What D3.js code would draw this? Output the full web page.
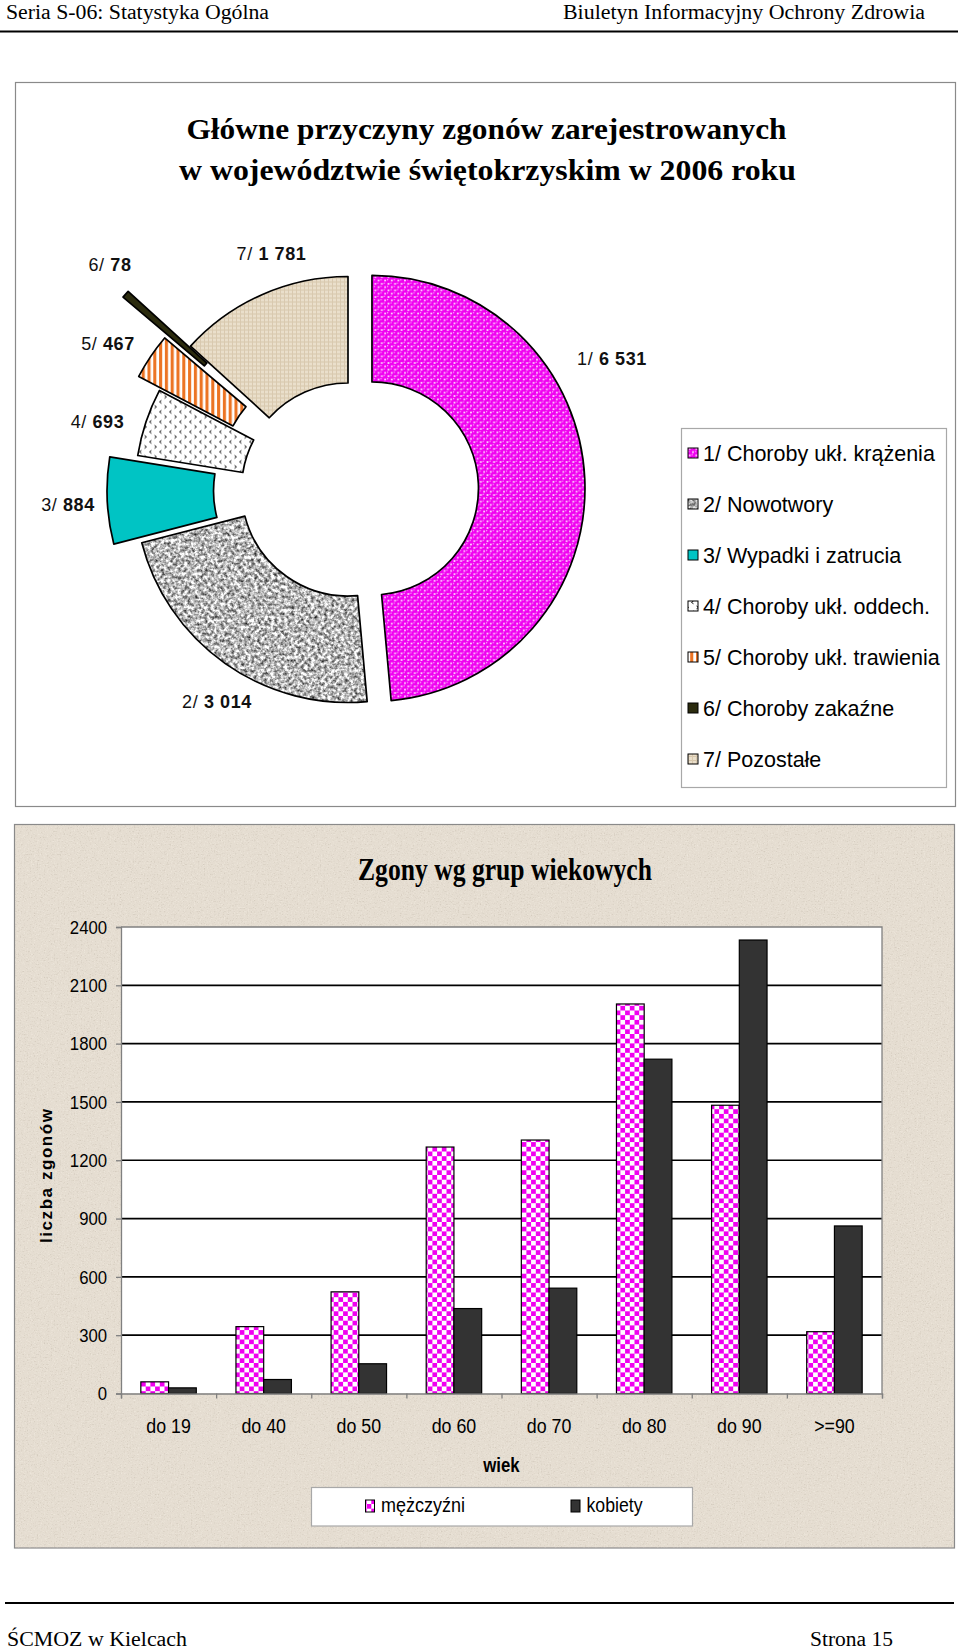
<!DOCTYPE html>
<html><head><meta charset="utf-8">
<script src="https://cdn.jsdelivr.net/npm/d3@7"></script>
<style>body{margin:0;background:#fff}svg{display:block}</style>
</head><body>
<script>
// ---------------- data ----------------
const causeCodes = ["1/","2/","3/","4/","5/","6/","7/"];
const causeNames = ["Choroby ukł. krążenia","Nowotwory","Wypadki i zatrucia","Choroby ukł. oddech.","Choroby ukł. trawienia","Choroby zakaźne","Pozostałe"];
const causeDeaths = [6531,3014,884,693,467,78,1781];

const ageGroups = ["do 19","do 40","do 50","do 60","do 70","do 80","do 90",">=90"];
const menDeaths = [60,344,523,1268,1304,2004,1483,318];
const womenDeaths = [29,72,153,437,542,1720,2333,862];
const seriesNames = ["mężczyźni","kobiety"];
const yTicks = [0,300,600,900,1200,1500,1800,2100,2400];

// ---------------- layout / style ----------------
const pieCenter = [348, 489.5];
const explode = [24,0,28,0,25,83,0];
const labelOffsets = [[264,-131.5],[-131,211.5],[-280,14.5],[-250.5,-68],[-240,-146],[-238,-225],[-76.5,-236.5]];
const SANS = "'Liberation Sans', Arial, sans-serif";
const SERIF = "'Liberation Serif', 'Times New Roman', serif";

const fmt = d3.formatLocale({decimal:",", thousands:" ", grouping:[3], currency:["",""]}).format(",d");

const svg = d3.select("body").append("svg").attr("width",960).attr("height",1652);
const defs = svg.append("defs");

// patterns
const p1 = defs.append("pattern").attr("id","pBalls").attr("patternUnits","userSpaceOnUse").attr("width",6.6).attr("height",6.6);
p1.append("rect").attr("width",6.6).attr("height",6.6).attr("fill","#fff");
[[0,0],[6.6,0],[0,6.6],[6.6,6.6],[3.3,3.3]].forEach(([a,b])=>{
  p1.append("circle").attr("cx",a).attr("cy",b).attr("r",2.55).attr("fill","#f000f0");
  p1.append("circle").attr("cx",a-0.8).attr("cy",b-0.8).attr("r",0.7).attr("fill","#ffb0ff");
});
const p4 = defs.append("pattern").attr("id","pChev").attr("patternUnits","userSpaceOnUse").attr("width",10).attr("height",10);
p4.append("rect").attr("width",10).attr("height",10).attr("fill","#fff");
p4.append("path").attr("d","M3.5,1 L1.5,2.4 L3.5,3.8").attr("fill","none").attr("stroke","#000").attr("stroke-width",0.9);
p4.append("path").attr("d","M6.5,6 L8.5,7.4 L6.5,8.8").attr("fill","none").attr("stroke","#000").attr("stroke-width",0.9);
const p5 = defs.append("pattern").attr("id","pStripe").attr("patternUnits","userSpaceOnUse").attr("width",5.8).attr("height",10);
p5.append("rect").attr("width",5.8).attr("height",10).attr("fill","#fff");
p5.append("rect").attr("width",3.1).attr("height",10).attr("fill","#ec7424");
const p7 = defs.append("pattern").attr("id","pWeave").attr("patternUnits","userSpaceOnUse").attr("width",4).attr("height",4);
p7.append("rect").attr("width",4).attr("height",4).attr("fill","#eadfcb");
p7.append("rect").attr("width",4).attr("height",1).attr("fill","#d6c6ab");
p7.append("rect").attr("width",1).attr("height",4).attr("fill","#d9c9af");
const pc = defs.append("pattern").attr("id","pCheck").attr("patternUnits","userSpaceOnUse").attr("width",9.4).attr("height",9.4);
pc.append("rect").attr("width",9.4).attr("height",9.4).attr("fill","#fff");
pc.append("rect").attr("width",4.7).attr("height",4.7).attr("fill","#f000f0");
pc.append("rect").attr("x",4.7).attr("y",4.7).attr("width",4.7).attr("height",4.7).attr("fill","#f000f0");

// granite filter
const fg = defs.append("filter").attr("id","granite").attr("x",0).attr("y",0).attr("width","100%").attr("height","100%")
  .attr("color-interpolation-filters","sRGB");
fg.append("feTurbulence").attr("type","fractalNoise").attr("baseFrequency",0.3).attr("numOctaves",3).attr("seed",7).attr("result","n");
fg.append("feColorMatrix").attr("in","n").attr("type","matrix")
  .attr("values","1.5 0 0 0 -0.03  1.5 0 0 0 -0.03  1.5 0 0 0 -0.03  0 0 0 0 1").attr("result","g");
fg.append("feComposite").attr("in","g").attr("in2","SourceGraphic").attr("operator","in");

// paper filter
const fp = defs.append("filter").attr("id","paper").attr("x",0).attr("y",0).attr("width","100%").attr("height","100%")
  .attr("color-interpolation-filters","sRGB");
fp.append("feTurbulence").attr("type","fractalNoise").attr("baseFrequency",0.7).attr("numOctaves",2).attr("seed",3).attr("result","n");
fp.append("feColorMatrix").attr("in","n").attr("type","matrix")
  .attr("values","0 0 0 0 0.98  0 0 0 0 0.96  0 0 0 0 0.92  2.2 0 0 0 -1.15").attr("result","w");
fp.append("feColorMatrix").attr("in","n").attr("type","matrix")
  .attr("values","0 0 0 0 0.72  0 0 0 0 0.68  0 0 0 0 0.62  0 -2.2 0 0 0.95").attr("result","d");
fp.append("feMerge").call(m=>{m.append("feMergeNode").attr("in","w");m.append("feMergeNode").attr("in","d");});
fp.append("feComposite").attr("in2","SourceGraphic").attr("operator","in");

const sliceFill = ["url(#pBalls)","#b0b0b0","#00c4c4","url(#pChev)","url(#pStripe)","#2b2b0e","url(#pWeave)"];
const sliceFilter = [null,"url(#granite)",null,null,null,null,null];

// helper for squeezed text
function stext(parent, x, y, str, size, sx, opts={}) {
  return parent.append("text")
    .attr("transform", `translate(${x},${y}) scale(${sx},1)`)
    .attr("font-family", opts.family || SANS)
    .attr("font-size", size)
    .attr("font-weight", opts.weight || "normal")
    .attr("text-anchor", opts.anchor || "start")
    .attr("fill", "#000")
    .text(str);
}

// ---------------- page header/footer ----------------
svg.append("text").attr("x",6).attr("y",19).attr("font-family",SERIF).attr("font-size",20)
  .attr("textLength",263).attr("lengthAdjust","spacingAndGlyphs").text("Seria S-06: Statystyka Ogólna");
svg.append("text").attr("x",563).attr("y",19).attr("font-family",SERIF).attr("font-size",20)
  .attr("textLength",362).attr("lengthAdjust","spacingAndGlyphs").text("Biuletyn Informacyjny Ochrony Zdrowia");
svg.append("line").attr("x1",0).attr("x2",958).attr("y1",31.5).attr("y2",31.5).attr("stroke","#000").attr("stroke-width",2);
svg.append("line").attr("x1",5).attr("x2",954).attr("y1",1603).attr("y2",1603).attr("stroke","#000").attr("stroke-width",2);
svg.append("text").attr("x",7).attr("y",1646).attr("font-family",SERIF).attr("font-size",20)
  .attr("textLength",180).attr("lengthAdjust","spacingAndGlyphs").text("ŚCMOZ w Kielcach");
svg.append("text").attr("x",810).attr("y",1646).attr("font-family",SERIF).attr("font-size",20)
  .attr("textLength",83).attr("lengthAdjust","spacingAndGlyphs").text("Strona 15");

// ---------------- pie chart ----------------
svg.append("rect").attr("x",15.5).attr("y",82.5).attr("width",940).attr("height",724)
  .attr("fill","#fff").attr("stroke","#8a8a8a").attr("stroke-width",1.2);
svg.append("text").attr("x",186.5).attr("y",139).attr("font-family",SERIF).attr("font-size",30).attr("font-weight","bold")
  .attr("textLength",600).attr("lengthAdjust","spacingAndGlyphs").text("Główne przyczyny zgonów zarejestrowanych");
svg.append("text").attr("x",179).attr("y",180).attr("font-family",SERIF).attr("font-size",30).attr("font-weight","bold")
  .attr("textLength",617).attr("lengthAdjust","spacingAndGlyphs").text("w województwie świętokrzyskim w 2006 roku");

const pieData = d3.pie().sort(null).value(d=>d)(causeDeaths);
const arc = d3.arc().innerRadius(106.5).outerRadius(213);
pieData.forEach((p,i)=>{
  const mid = (p.startAngle+p.endAngle)/2;
  const dx = Math.sin(mid)*explode[i], dy = -Math.cos(mid)*explode[i];
  const g = svg.append("g").attr("transform",`translate(${pieCenter[0]+dx},${pieCenter[1]+dy})`);
  const f = g.append("path").attr("d",arc(p)).attr("fill",sliceFill[i]);
  if (sliceFilter[i]) f.attr("filter",sliceFilter[i]);
  g.append("path").attr("d",arc(p)).attr("fill","none").attr("stroke","#000").attr("stroke-width",1.7).attr("stroke-linejoin","round");
});
pieData.forEach((p,i)=>{
  const t = svg.append("text")
    .attr("x",pieCenter[0]+labelOffsets[i][0]).attr("y",pieCenter[1]+labelOffsets[i][1]+6.5)
    .attr("text-anchor","middle").attr("font-family",SANS).attr("font-size",18)
    .attr("letter-spacing",0.6).attr("fill","#111");
  t.append("tspan").text(causeCodes[i]+" ");
  t.append("tspan").attr("font-weight","bold").text(fmt(p.data));
});

// pie legend
svg.append("rect").attr("x",681.5).attr("y",428.5).attr("width",265).attr("height",359)
  .attr("fill","#fff").attr("stroke","#a8a8a8").attr("stroke-width",1.2);
causeNames.forEach((n,i)=>{
  const cy = 453 + i*51;
  const r = svg.append("rect").attr("x",688).attr("y",cy-5).attr("width",10).attr("height",10)
    .attr("fill",sliceFill[i]);
  if (sliceFilter[i]) r.attr("filter",sliceFilter[i]);
  svg.append("rect").attr("x",688).attr("y",cy-5).attr("width",10).attr("height",10)
    .attr("fill","none").attr("stroke","#000").attr("stroke-width",1);
  svg.append("text").attr("x",703).attr("y",cy+8).attr("font-family",SANS).attr("font-size",21.5)
    .attr("fill","#000").text(causeCodes[i]+" "+n);
});

// ---------------- bar chart ----------------
svg.append("rect").attr("x",14.5).attr("y",824.5).attr("width",940).attr("height",723.5)
  .attr("fill","#e5ddd1").attr("stroke","#8a8a8a").attr("stroke-width",1.2);
svg.append("rect").attr("x",15).attr("y",825).attr("width",939).attr("height",722.5)
  .attr("fill","#e5ddd1").attr("filter","url(#paper)").attr("opacity",0.55);

svg.append("text").attr("x",358).attr("y",880).attr("font-family",SERIF).attr("font-size",31).attr("font-weight","bold")
  .attr("textLength",294).attr("lengthAdjust","spacingAndGlyphs").text("Zgony wg grup wiekowych");

const x0 = d3.scaleBand().domain(ageGroups).range([121,882]).paddingInner(0.417).paddingOuter(0.2085);
const x1 = d3.scaleBand().domain(seriesNames).range([0,x0.bandwidth()]);
const y = d3.scaleLinear().domain([0,2400]).range([1393.5,927]);

svg.append("rect").attr("x",121).attr("y",927).attr("width",761).attr("height",y(0)-927).attr("fill","#fff");
// grid
svg.append("g").selectAll("line").data(yTicks.filter(t=>t>0 && t<2400)).join("line")
  .attr("x1",121).attr("x2",882).attr("y1",d=>y(d)).attr("y2",d=>y(d))
  .attr("stroke","#000").attr("stroke-width",1.7);
// plot border top/right
svg.append("path").attr("d",`M121,${y(2400)}H882V${y(0)}`).attr("fill","none").attr("stroke","#808080").attr("stroke-width",1.3);

// bars
const series = [menDeaths, womenDeaths];
const barFill = ["url(#pCheck)","#333333"];
const gBars = svg.append("g");
ageGroups.forEach((a,i)=>{
  seriesNames.forEach((s,j)=>{
    const v = series[j][i];
    gBars.append("rect").attr("x",x0(a)+x1(s)).attr("y",y(v)).attr("width",x1.bandwidth()).attr("height",y(0)-y(v))
      .attr("fill",barFill[j]).attr("stroke","#000").attr("stroke-width",1.2);
  });
});

// axes
const yAxis = svg.append("g").attr("transform","translate(121,0)")
  .call(d3.axisLeft(y).tickValues(yTicks).tickSize(5).tickFormat(""));
yAxis.selectAll("path,line").attr("stroke","#808080").attr("stroke-width",1.3);
const step = x0.step();
const xBound = d3.range(ageGroups.length+1).map(i=>121+i*step);
const xAxis = svg.append("g").attr("transform",`translate(0,${y(0)})`)
  .call(d3.axisBottom(d3.scaleLinear().domain([121,882]).range([121,882])).tickValues(xBound).tickSize(5).tickFormat(""));
xAxis.selectAll("path,line").attr("stroke","#808080").attr("stroke-width",1.3);

yTicks.forEach(t=> stext(svg,107,y(t)+6.8,String(t),19,0.88,{anchor:"end"}));
ageGroups.forEach(a=> stext(svg,x0(a)+x0.bandwidth()/2,1432.5,a,20,0.89,{anchor:"middle"}));
stext(svg,501.5,1471.5,"wiek",20,0.84,{anchor:"middle",weight:"bold"});
svg.append("text").attr("transform","translate(52,1176) rotate(-90)")
  .attr("text-anchor","middle").attr("font-family",SANS).attr("font-size",17).attr("font-weight","bold")
  .attr("textLength",134).attr("lengthAdjust","spacing").text("liczba zgonów");

// bar legend
svg.append("rect").attr("x",311.5).attr("y",1487.5).attr("width",381).attr("height",38.5)
  .attr("fill","#fff").attr("stroke","#a8a8a8").attr("stroke-width",1.2);
const legX = [365.5, 571];
const legW = [84, 56];
seriesNames.forEach((s,j)=>{
  svg.append("rect").attr("x",legX[j]).attr("y",1500).attr("width",9).attr("height",12)
    .attr("fill",barFill[j]).attr("stroke","#000").attr("stroke-width",1);
  svg.append("text").attr("x",legX[j]+15.5).attr("y",1511.5).attr("font-family",SANS).attr("font-size",20)
    .attr("textLength",legW[j]).attr("lengthAdjust","spacingAndGlyphs").text(s);
});
</script>
</body></html>
